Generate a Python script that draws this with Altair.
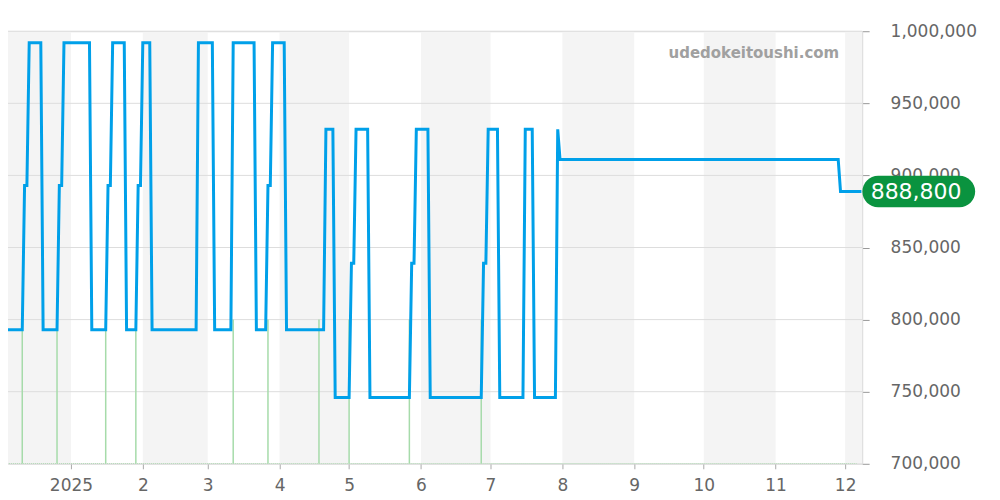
import altair as alt
import pandas as pd

# ---- data ----
price_dates = [
    "2024-12-02", "2024-12-11", "2024-12-12", "2024-12-13", "2024-12-14", "2024-12-19",
    "2024-12-20", "2024-12-26", "2024-12-27", "2024-12-28", "2024-12-29", "2025-01-09",
    "2025-01-10", "2025-01-16", "2025-01-17", "2025-01-18", "2025-01-19", "2025-01-24",
    "2025-01-25", "2025-01-29", "2025-01-30", "2025-01-31", "2025-02-01", "2025-02-04",
    "2025-02-05", "2025-02-24", "2025-02-25", "2025-03-03", "2025-03-04", "2025-03-11",
    "2025-03-12", "2025-03-21", "2025-03-22", "2025-03-26", "2025-03-27", "2025-03-28",
    "2025-03-29", "2025-04-03", "2025-04-04", "2025-04-20", "2025-04-21", "2025-04-24",
    "2025-04-25", "2025-05-01", "2025-05-02", "2025-05-03", "2025-05-04", "2025-05-09",
    "2025-05-10", "2025-05-27", "2025-05-28", "2025-05-29", "2025-05-30", "2025-06-04",
    "2025-06-05", "2025-06-27", "2025-06-28", "2025-06-29", "2025-06-30", "2025-07-04",
    "2025-07-05", "2025-07-15", "2025-07-16", "2025-07-19", "2025-07-20", "2025-07-29",
    "2025-07-30", "2025-07-31", "2025-11-28", "2025-11-29", "2025-12-08",
]
price_values = [
    793000, 793000, 893000, 893000, 992000, 992000,
    793000, 793000, 893000, 893000, 992000, 992000,
    793000, 793000, 893000, 893000, 992000, 992000,
    793000, 793000, 893000, 893000, 992000, 992000,
    793000, 793000, 992000, 992000, 793000, 793000,
    992000, 992000, 793000, 793000, 893000, 893000,
    992000, 992000, 793000, 793000, 932000, 932000,
    746000, 746000, 839000, 839000, 932000, 932000,
    746000, 746000, 839000, 839000, 932000, 932000,
    746000, 746000, 839000, 839000, 932000, 932000,
    746000, 746000, 932000, 932000, 746000, 746000,
    932000, 911000, 911000, 888800, 888800,
]

trade_dates = [
    "2024-12-11", "2024-12-26", "2025-01-16", "2025-01-29", "2025-03-12",
    "2025-03-27", "2025-04-18", "2025-05-01", "2025-05-27", "2025-06-27",
]
trade_values = [800000, 800000, 800000, 800000, 800000, 800000, 800000, 800000, 800000, 800000]

band_starts = ["2024-12-01", "2025-02-01", "2025-04-01", "2025-06-01", "2025-08-01", "2025-10-01", "2025-12-01"]
band_ends = ["2025-01-01", "2025-03-01", "2025-05-01", "2025-07-01", "2025-09-01", "2025-11-01", "2026-01-01"]

baseline_span = ["2024-12-01", "2025-12-06"]

y_ticks = [700000, 750000, 800000, 850000, 900000, 950000, 1000000]
month_ticks = [(2025, m) for m in range(1, 13)]

watermark = ["udedokeitoushi.com"]
last_price = [price_values[-1]]
last_label = ["888,800"]

# ---- tables ----
price_df = pd.DataFrame({"date": price_dates, "value": price_values})
trade_df = pd.DataFrame({"date": trade_dates, "value": trade_values, "base": [700000] * len(trade_dates)})
band_df = pd.DataFrame({"start": band_starts, "end": band_ends,
                        "top": [1000000] * len(band_starts), "bottom": [700000] * len(band_starts)})
grid_df = pd.DataFrame({"value": y_ticks})
base_df = pd.DataFrame({"start": [baseline_span[0]], "end": [baseline_span[1]], "value": [700000]})
wm_df = pd.DataFrame({"text": watermark})
badge_df = pd.DataFrame({"value": last_price, "label": last_label})

FONT = "DejaVu Sans"

x_scale = alt.Scale(
    type="utc",
    domain=[alt.DateTime(year=2024, month=12, date=4, hours=20, minutes=24, utc=True),
            alt.DateTime(year=2025, month=12, date=8, hours=7, minutes=40, utc=True)],
    nice=False,
)
y_scale = alt.Scale(domain=[700000, 1000000], nice=False, zero=False)

x_axis = alt.Axis(
    values=[alt.DateTime(year=y, month=m, date=1, utc=True) for (y, m) in month_ticks],
    labelExpr="utcmonth(datum.value) == 0 ? utcFormat(datum.value, '%Y') : utcFormat(datum.value, '%-m')",
    title=None, grid=False, domain=False, ticks=True, tickSize=5, tickColor="#aaaaaa",
    labelFont=FONT, labelFontSize=17, labelColor="#666666", labelPadding=9,
    labelFlush=False, labelOverlap=False,
)
y_axis = alt.Axis(
    values=y_ticks, format=",.0f", orient="right", title=None, grid=False,
    domain=True, domainColor="#dddddd", ticks=True, tickSize=7, tickColor="#999999",
    labelFont=FONT, labelFontSize=17, labelColor="#666666", labelPadding=21,
    labelFlush=False, labelOverlap=False,
)


def X(field, **kw):
    return alt.X(field, type="temporal", scale=x_scale, axis=x_axis, **kw)


def Y(field, **kw):
    return alt.Y(field, type="quantitative", scale=y_scale, axis=y_axis, **kw)


bands = alt.Chart(band_df).mark_rect(color="#f4f4f4", clip=True).encode(
    x=X("start"), x2="end", y=Y("top"), y2="bottom"
)

grid = alt.Chart(grid_df).mark_rule(color="#dddddd", strokeWidth=1).encode(y=Y("value"))

trades = alt.Chart(trade_df).mark_rule(color="#a6dbaa", strokeWidth=1.5, clip=True).encode(
    x=X("date"), y=Y("base"), y2="value"
)

baseline = alt.Chart(base_df).mark_rule(
    color="#a6dbaa", strokeWidth=1.5, strokeDash=[1, 1], clip=True
).encode(x=X("start"), x2="end", y=Y("value"))

line = alt.Chart(price_df).mark_line(
    color="#00a0e9", strokeWidth=3, clip=True, strokeJoin="miter", strokeCap="butt"
).encode(x=X("date"), y=Y("value"))

wm = alt.Chart(wm_df).mark_text(
    font=FONT, fontWeight="bold", fontSize=15, color="#a0a0a0", align="right", baseline="middle"
).encode(x=alt.value(832), y=alt.value(22), text="text:N")

stadium = "M -2.57 -1 L 2.57 -1 A 1 1 0 0 1 2.57 1 L -2.57 1 A 1 1 0 0 1 -2.57 -1 Z"
badge = alt.Chart(badge_df).mark_point(
    shape=stadium, size=1000, filled=True, fill="#0a933f", opacity=1, strokeWidth=0, clip=False
).encode(x=alt.value(911.7), y=Y("value"))

badge_text = alt.Chart(badge_df).mark_text(
    font=FONT, fontSize=22, color="#ffffff", align="center", baseline="middle", clip=False
).encode(x=alt.value(909), y=Y("value"), text="label:N")

chart = alt.layer(bands, grid, trades, baseline, line, wm, badge, badge_text).properties(
    width=855,
    height=433,
    autosize=alt.AutoSizeParams(type="none"),
    padding={"left": 0, "top": 23, "right": 130, "bottom": 34},
).configure_view(strokeWidth=0).configure(background="#ffffff")

chart.save("out.html", embed_options={"renderer": "svg", "actions": False})
